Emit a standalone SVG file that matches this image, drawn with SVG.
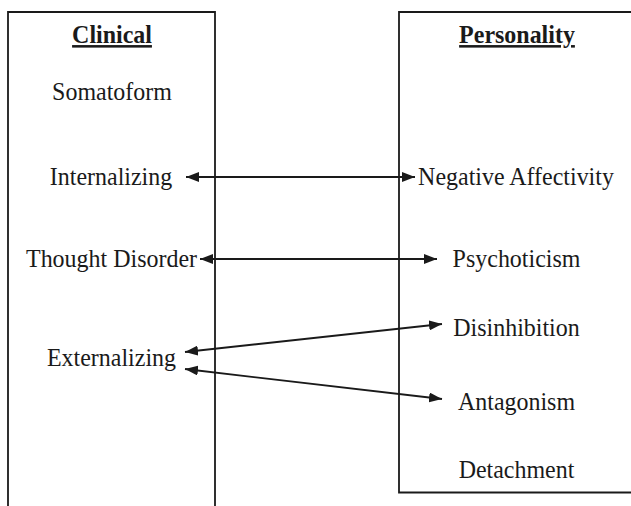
<svg xmlns="http://www.w3.org/2000/svg" width="631" height="506" viewBox="0 0 631 506">
<defs>
<marker id="ah" viewBox="0 0 13 10" refX="13" refY="5" markerWidth="13" markerHeight="10" markerUnits="userSpaceOnUse" orient="auto-start-reverse">
<path d="M0,0 L13,5 L0,10 z" fill="#1a1a1a"/>
</marker>
</defs>
<style>
.box{fill:none;stroke:#1a1a1a;stroke-width:1.8}
.t{font-family:"Liberation Serif","Times New Roman",serif;font-size:25.5px;fill:#1a1a1a;text-anchor:middle}
.h{font-weight:bold;text-decoration:underline}
.c{stroke:#1a1a1a;stroke-width:1.8;fill:none;marker-start:url(#ah);marker-end:url(#ah)}
</style>
<rect width="631" height="506" fill="#fff"/>
<g id="clinical">
<path class="box" d="M8,507 V12 H215 V507"/>
<text class="t h" transform="translate(112 43) scale(0.94 1)">Clinical</text>
</g>
<g id="personality">
<path class="box" d="M632,492.5 H399 V12 H632"/>
<text class="t h" transform="translate(517 43) scale(0.94 1)">Personality</text>
</g>
<g id="somatoform"><text class="t" transform="translate(112 100) scale(0.94 1)">Somatoform</text></g>
<g id="internalizing"><text class="t" transform="translate(111 185) scale(0.94 1)">Internalizing</text></g>
<g id="thought-disorder"><text class="t" transform="translate(111.5 267) scale(0.94 1)">Thought Disorder</text></g>
<g id="externalizing"><text class="t" transform="translate(111.5 366) scale(0.94 1)">Externalizing</text></g>
<g id="negative-affectivity"><text class="t" transform="translate(516 185) scale(0.94 1)">Negative Affectivity</text></g>
<g id="psychoticism"><text class="t" transform="translate(516.5 267) scale(0.94 1)">Psychoticism</text></g>
<g id="disinhibition"><text class="t" transform="translate(516.5 336) scale(0.94 1)">Disinhibition</text></g>
<g id="antagonism"><text class="t" transform="translate(516.5 410) scale(0.94 1)">Antagonism</text></g>
<g id="detachment"><text class="t" transform="translate(516.5 478) scale(0.94 1)">Detachment</text></g>
<g id="connectors">
<line class="c" x1="186" y1="177" x2="415" y2="177"/>
<line class="c" x1="200" y1="259" x2="437" y2="259"/>
<line class="c" x1="185" y1="352" x2="442" y2="324"/>
<line class="c" x1="185" y1="369" x2="442" y2="399"/>
</g>
</svg>
